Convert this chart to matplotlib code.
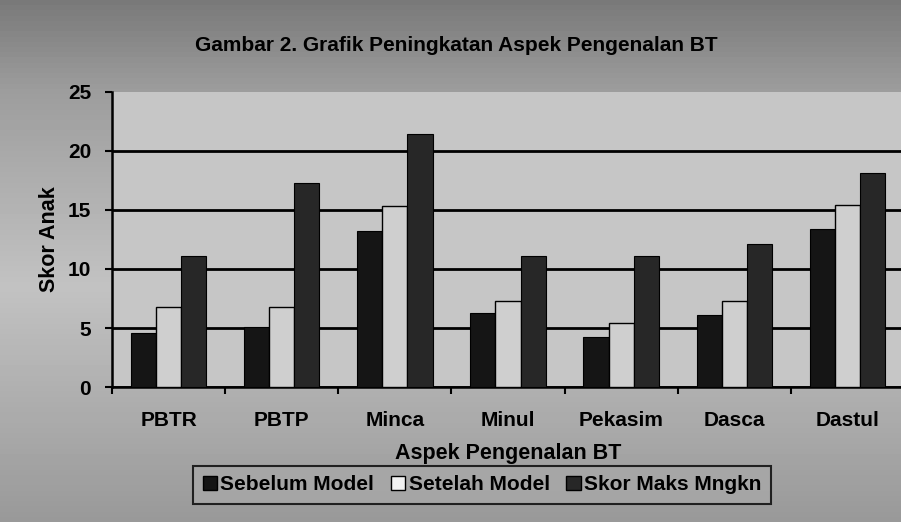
import numpy as np
import matplotlib
matplotlib.use("Agg")
import matplotlib.pyplot as plt
from matplotlib.patches import Patch

# data
categories = ["PBTR", "PBTP", "Minca", "Minul", "Pekasim", "Dasca", "Dastul"]
sebelum = [4.6, 5.1, 13.2, 6.3, 4.2, 6.1, 13.4]
setelah = [6.8, 6.8, 15.3, 7.3, 5.4, 7.3, 15.4]
skor_maks = [11.1, 17.3, 21.4, 11.1, 11.1, 12.1, 18.1]
series_names = ["Sebelum Model", "Setelah Model", "Skor Maks Mngkn"]

plt.rcParams["font.family"] = ["Liberation Sans", "DejaVu Sans"]
plt.rcParams["font.weight"] = "bold"

fig = plt.figure(figsize=(9.01, 5.22), dpi=100)
fig.patch.set_facecolor("#a4a4a4")

# scanned-paper look: dark band at the top, lighter in the middle
bg = fig.add_axes([0, 0, 1, 1], zorder=-10)
shade = np.interp(np.linspace(0, 1, 100), [0, 0.18, 0.55, 1.0], [0.48, 0.62, 0.76, 0.60])
bg.imshow(shade[:, None], cmap="gray", vmin=0, vmax=1, aspect="auto",
          extent=[0, 1, 0, 1])
bg.set_axis_off()

ax = fig.add_axes([0.1243, 0.2586, 0.879, 0.5652])
ax.set_facecolor("#c6c6c6")

x = np.arange(len(categories))
w = 1 / 4.5
ax.bar(x - w, sebelum, w, color="#151515", edgecolor="#000000", linewidth=0.8, zorder=3)
ax.bar(x, setelah, w, color="#cfcfcf", edgecolor="#000000", linewidth=1.0, zorder=3)
ax.bar(x + w, skor_maks, w, color="#272727", edgecolor="#000000", linewidth=0.8, zorder=3)

ax.set_xlim(-0.5, len(categories) - 0.5)
ax.set_ylim(0, 25)
ax.set_yticks([0, 5, 10, 15, 20, 25])
ax.yaxis.grid(True, color="#000000", linewidth=2.0, zorder=1)
ax.set_axisbelow(True)
ax.get_ygridlines()[-1].set_visible(False)

# category ticks sit between the groups, labels at the centres
ax.set_xticks(np.arange(-0.5, len(categories), 1.0))
ax.set_xticklabels([])
ax.set_xticks(x, minor=True)
ax.set_xticklabels(categories, minor=True, fontsize=15, fontweight="bold")
ax.tick_params(axis="x", which="minor", length=0, pad=17)
ax.tick_params(axis="x", which="major", length=5, width=1.5, direction="out")
ax.tick_params(axis="y", length=5, width=1.5, labelsize=15, pad=10)
for lbl in ax.get_yticklabels():
    lbl.set_fontweight("bold")

for side in ["top", "right"]:
    ax.spines[side].set_visible(False)
ax.spines["left"].set_linewidth(1.8)
ax.spines["bottom"].set_linewidth(1.8)

ax.set_xlabel("Aspek Pengenalan BT", fontsize=15.5, fontweight="bold")
ax.set_ylabel("Skor Anak", fontsize=15.5, fontweight="bold")
ax.xaxis.set_label_coords(0.5, -0.19)
ax.yaxis.set_label_coords(-0.066, 0.5)

fig.text(0.506, 0.913, "Gambar 2. Grafik Peningkatan Aspek Pengenalan BT",
         ha="center", va="center", fontsize=15, fontweight="bold")

handles = [
    Patch(facecolor="#151515", edgecolor="#000000"),
    Patch(facecolor="#f2f2f2", edgecolor="#000000"),
    Patch(facecolor="#272727", edgecolor="#000000"),
]
leg = fig.legend(handles, series_names, loc="center", bbox_to_anchor=(0.535, 0.071),
                 ncol=3, frameon=True, fontsize=15, handlelength=0.7,
                 handleheight=0.7, handletextpad=0.15, columnspacing=0.8,
                 borderpad=0.45, fancybox=False)
leg.get_frame().set_edgecolor("#000000")
leg.get_frame().set_linewidth(1.5)
leg.get_frame().set_facecolor("#a8a8a8")
for t in leg.get_texts():
    t.set_fontweight("bold")

fig.savefig("out.png", dpi=100)
